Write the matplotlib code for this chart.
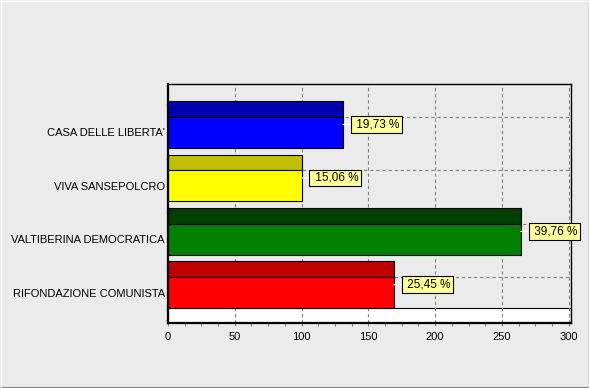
import matplotlib
matplotlib.use("Agg")
import matplotlib.pyplot as plt
import numpy as np
from matplotlib.lines import Line2D

# Chart data
parties = ["CASA DELLE LIBERTA'", "VIVA SANSEPOLCRO",
           "VALTIBERINA DEMOCRATICA", "RIFONDAZIONE COMUNISTA"]
votes = [131, 100, 264, 169]
percents = [19.73, 15.06, 39.76, 25.45]
front_colors = ["#0000FF", "#FFFF00", "#008000", "#FF0000"]
top_colors = ["#0000B0", "#C0C000", "#004000", "#C00000"]
x_ticks = [0, 50, 100, 150, 200, 250, 300]

plt.rcParams['font.family'] = ['Liberation Sans', 'DejaVu Sans']
plt.rcParams['font.size'] = 8

BG = "#EBEBEB"
W, H = 589, 388

fig = plt.figure(figsize=(W / 100, H / 100), dpi=100, facecolor=BG)
# plot area in pixels: left 168, right 571, top 84, bottom 323
ax = fig.add_axes([168 / W, (H - 323) / H, 403 / W, 239 / H])
ax.set_facecolor(BG)

# geometry of the pseudo-3D bars (in category slot units)
gap_top = 0.32
depth = 0.295
front = 0.58
floor_top = gap_top + len(parties) - 1 + depth + front
y_max = floor_top + 0.276

idx = np.arange(len(parties))
bar_top = gap_top + idx
ax.barh(bar_top + depth / 2, votes, height=depth, color=top_colors,
        edgecolor="black", linewidth=0.8, zorder=2)
ax.barh(bar_top + depth + front / 2, votes, height=front, color=front_colors,
        edgecolor="black", linewidth=0.8, zorder=2)

# floor
ax.axhspan(floor_top, y_max + 1, facecolor="white", edgecolor="black",
           linewidth=0.8, zorder=0.3)

# grid
ax.set_axisbelow(True)
ax.grid(axis="x", color="#808080", linestyle=(0, (3, 2.5)), linewidth=0.8)
for y in bar_top + depth:
    ax.axhline(y, color="#808080", linestyle=(0, (3, 2.5)), linewidth=0.8,
               zorder=0.5)

# value labels
for v, p, t in zip(votes, percents, bar_top):
    lbl = " " + f"{p:.2f}".replace(".", ",") + " %"
    ax.annotate(lbl, xy=(v, t + (depth + front) / 2), xytext=(7.4, 0),
                textcoords="offset points", ha="left", va="center",
                fontsize=8.5, zorder=3,
                bbox=dict(boxstyle="square,pad=0.2", facecolor="#FFFF99",
                          edgecolor="black", linewidth=0.8),
                arrowprops=dict(arrowstyle="-", color="white", lw=0.8,
                                shrinkA=0, shrinkB=0))

ax.set_xlim(0, 301.7)
ax.set_ylim(y_max, 0)

ax.set_xticks(x_ticks)
ax.set_xticks(np.arange(0, 301, 12.5), minor=True)
ax.set_yticks(bar_top + depth + front / 2)
ax.set_yticklabels(parties)
ax.set_yticks(np.append(idx + 0.4, [floor_top - 0.04, floor_top + 0.22]),
              minor=True)

ax.tick_params(axis="x", which="major", length=2.5, width=0.8,
               color="#808080", pad=4, labelsize=8)
ax.tick_params(axis="x", which="minor", length=2, width=0.8, color="#808080")
ax.tick_params(axis="y", which="both", length=1.5, width=0.8,
               color="#808080", pad=0.8, labelsize=8)

for side in ["left", "bottom"]:
    ax.spines[side].set_linewidth(1.6)
for side in ["top", "right"]:
    ax.spines[side].set_linewidth(1.0)

# window-style outer frame
fig.add_artist(Line2D([1 - 0.5 / W, 1 - 0.5 / W], [0, 1],
                      transform=fig.transFigure, color="#808080", lw=1))
fig.add_artist(Line2D([0, 1], [0.5 / H, 0.5 / H],
                      transform=fig.transFigure, color="#808080", lw=1.5))
fig.add_artist(Line2D([0.5 / W, 0.5 / W], [0, 1],
                      transform=fig.transFigure, color="white", lw=1))
fig.add_artist(Line2D([0, 1], [1 - 0.5 / H, 1 - 0.5 / H],
                      transform=fig.transFigure, color="white", lw=1))

fig.savefig("out.png", dpi=100, facecolor=BG)
